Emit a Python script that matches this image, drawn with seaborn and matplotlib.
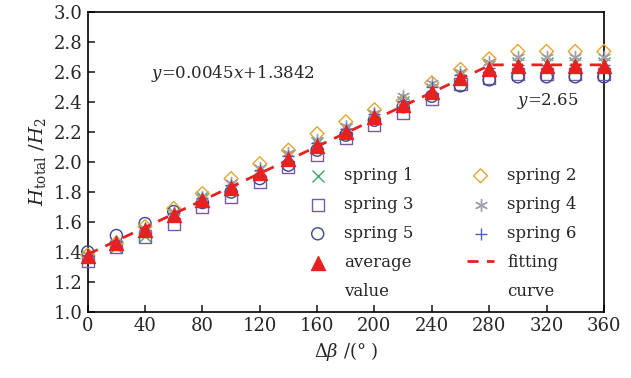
import numpy as np
import pandas as pd
import seaborn as sns
import matplotlib.pyplot as plt
from matplotlib.lines import Line2D

angle = [0, 20, 40, 60, 80, 100, 120, 140, 160, 180, 200, 220, 240, 260, 280, 300, 320, 340, 360]
spring1 = [1.37, 1.43, 1.51, 1.66, 1.77, 1.85, 1.95, 2.04, 2.13, 2.22, 2.31, 2.40, 2.49, 2.58, 2.64, 2.66, 2.66, 2.66, 2.66]
spring2 = [1.38, 1.46, 1.57, 1.69, 1.79, 1.89, 1.99, 2.08, 2.19, 2.27, 2.35, 2.41, 2.53, 2.62, 2.69, 2.74, 2.74, 2.74, 2.74]
spring3 = [1.34, 1.43, 1.50, 1.59, 1.70, 1.77, 1.87, 1.97, 2.05, 2.16, 2.25, 2.33, 2.42, 2.52, 2.56, 2.59, 2.59, 2.59, 2.59]
spring4 = [1.38, 1.46, 1.56, 1.67, 1.77, 1.86, 1.96, 2.06, 2.15, 2.24, 2.33, 2.44, 2.53, 2.60, 2.67, 2.70, 2.70, 2.70, 2.70]
spring5 = [1.40, 1.51, 1.59, 1.67, 1.73, 1.80, 1.89, 1.98, 2.08, 2.18, 2.28, 2.37, 2.44, 2.51, 2.55, 2.57, 2.57, 2.57, 2.57]
spring6 = [1.37, 1.47, 1.55, 1.66, 1.76, 1.85, 1.95, 2.04, 2.13, 2.22, 2.32, 2.41, 2.50, 2.58, 2.63, 2.65, 2.65, 2.65, 2.65]
average = [1.37, 1.46, 1.55, 1.65, 1.75, 1.83, 1.93, 2.02, 2.11, 2.20, 2.30, 2.38, 2.47, 2.56, 2.62, 2.64, 2.64, 2.64, 2.64]

fit_x = [0, 281, 360]
fit_y = [1.3842, 2.65, 2.65]

sns.set_style("ticks")
plt.rcParams['font.family'] = ['DejaVu Serif']
plt.rcParams['mathtext.fontset'] = 'dejavuserif'

fig = plt.figure(figsize=(6.31, 3.78), dpi=100)
ax = fig.add_axes([0.139, 0.175, 0.818, 0.792])

styles = [
    (spring1, 'spring 1', 'x', '#3daa6a', False),
    (spring3, 'spring 3', 's', '#7a5aa8', True),
    (spring5, 'spring 5', 'o', '#3a4a8a', True),
    (spring2, 'spring 2', 'D', '#e3a530', True),
    (spring4, 'spring 4', (6, 2, 0), '#a0a0a8', False),
    (spring6, 'spring 6', '+', '#4a62c0', False),
]
for vals, name, mk, col, hollow in styles:
    if hollow:
        sz = 50 if mk == 'D' else 75
        sns.scatterplot(x=angle, y=vals, marker=mk, s=sz, facecolor='none',
                        edgecolor=col, linewidth=1.0, ax=ax, label=name,
                        zorder=3, clip_on=False)
    else:
        sns.scatterplot(x=angle, y=vals, marker=mk, s=75, color=col,
                        linewidth=1.0, ax=ax, label=name, zorder=3, clip_on=False)

sns.scatterplot(x=angle, y=average, marker='^', s=105, color='#e82020',
                edgecolor='#e82020', ax=ax, label='average', zorder=5,
                clip_on=False)
sns.lineplot(x=fit_x, y=fit_y, color='#e82020', linestyle=(0, (4, 3)),
             linewidth=2, ax=ax, label='fitting', zorder=4)

h, l = ax.get_legend_handles_labels()
lookup = dict(zip(l, h))
blank = Line2D([], [], linestyle='none', marker='none')
order = ['spring 1', 'spring 3', 'spring 5', 'average', 'value',
         'spring 2', 'spring 4', 'spring 6', 'fitting', 'curve']
ax.legend([lookup.get(k, blank) for k in order], order, ncol=2, frameon=False,
          loc='lower right', bbox_to_anchor=(0.97, 0.0), fontsize=12,
          handlelength=1.6, handletextpad=0.8, columnspacing=3.2,
          labelspacing=0.72, borderaxespad=0.3)

ax.text(101, 2.59, r'$y$=0.0045$x$+1.3842', fontsize=12, ha='center', va='center')
ax.text(321, 2.41, r'$y$=2.65', fontsize=12, ha='center', va='center')

ax.set_xlim(0, 360)
ax.set_ylim(1.0, 3.0)
ax.set_xticks(np.arange(0, 361, 40))
ax.set_yticks(np.arange(1.0, 3.01, 0.2))
ax.set_yticklabels([f'{v:.1f}' for v in np.arange(1.0, 3.01, 0.2)])
ax.tick_params(direction='in', labelsize=13, length=5, width=1.2, top=False, right=False)
for sp in ax.spines.values():
    sp.set_linewidth(1.2)
    sp.set_color('black')
ax.set_xlabel(r'$\Delta\beta$ /(° )', fontsize=13)
ax.set_ylabel(r'$H_{\rm total}$ /$H_2$', fontsize=14)

fig.savefig('out.png', dpi=100)
